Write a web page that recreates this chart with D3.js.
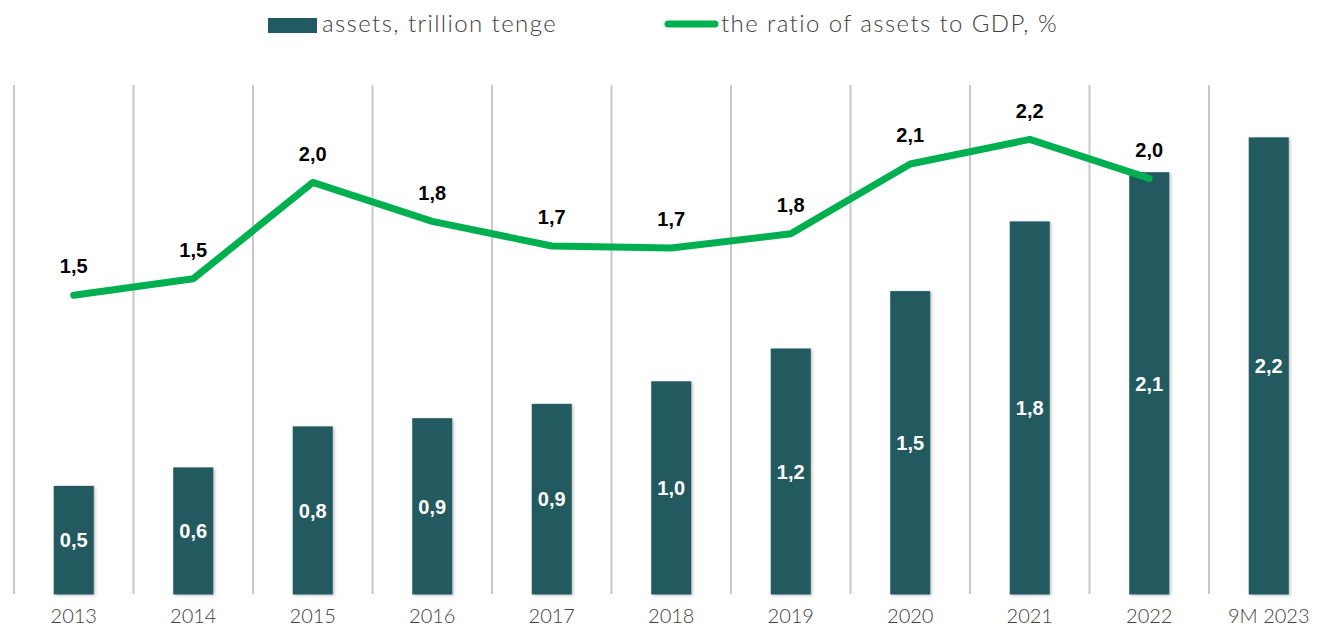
<!DOCTYPE html>
<html>
  <head>
    <style>
      html,
      body {
        margin: 0;
        padding: 0;
        background: #fff;
      }
      #viz {
        width: 1323px;
        height: 632px;
      }
    </style>
  </head>
  <body>
    <div id="viz"></div>
    <script src="https://d3js.org/d3.v7.min.js"></script>
    <script>
      // data
      const categories = ["2013", "2014", "2015", "2016", "2017", "2018", "2019", "2020", "2021", "2022", "9M 2023"];
      const assets = [0.53, 0.62, 0.82, 0.86, 0.93, 1.04, 1.2, 1.48, 1.82, 2.06, 2.23];
      const ratioYears = ["2013", "2014", "2015", "2016", "2017", "2018", "2019", "2020", "2021", "2022"];
      const ratio = [1.46, 1.54, 2.01, 1.82, 1.7, 1.69, 1.76, 2.1, 2.22, 2.03];
      const legendLabels = ["assets, trillion tenge", "the ratio of assets to GDP, %"];

      const width = 1323;
      const height = 632;
      const barColor = "#215a60";
      const lineColor = "#00b050";
      const lightFont = "Lato, 'Open Sans', sans-serif";
      const boldFont = "'Liberation Sans', Arial, sans-serif";

      const fmt = (v) => d3.format(".1f")(v).replace(".", ",");

      const svg = d3
        .select("#viz")
        .append("svg")
        .attr("width", width)
        .attr("height", height);

      const defs = svg.append("defs");
      const shadow = defs.append("filter").attr("id", "shadow").attr("x", "-20%").attr("width", "150%");
      shadow
        .append("feDropShadow")
        .attr("dx", 1.5)
        .attr("dy", 1)
        .attr("stdDeviation", 1.5)
        .attr("flood-color", "#000")
        .attr("flood-opacity", 0.25);

      const x = d3.scaleBand().domain(categories).range([14, 1328.5]).padding(0);
      const y = d3.scaleLinear().domain([0, 2.5]).range([594.5, 594.5 - 2.5 * 205]);
      const barW = x.bandwidth() * 0.335;

      // vertical separators
      svg
        .append("g")
        .selectAll("line")
        .data(categories)
        .join("line")
        .attr("x1", (d) => x(d))
        .attr("x2", (d) => x(d))
        .attr("y1", 85)
        .attr("y2", 594)
        .attr("stroke", "#c8c8c8")
        .attr("stroke-width", 2);

      // bars
      const bars = categories.map((c, i) => ({ c, v: assets[i] }));
      svg
        .append("g")
        .selectAll("rect")
        .data(bars)
        .join("rect")
        .attr("x", (d) => x(d.c) + x.bandwidth() / 2 - barW / 2)
        .attr("y", (d) => y(d.v))
        .attr("width", barW)
        .attr("height", (d) => y(0) - y(d.v))
        .attr("fill", barColor)
        .attr("filter", "url(#shadow)");

      svg
        .append("g")
        .selectAll("text")
        .data(bars)
        .join("text")
        .attr("x", (d) => x(d.c) + x.bandwidth() / 2)
        .attr("y", (d) => (y(d.v) + y(0)) / 2)
        .attr("dy", "0.36em")
        .attr("text-anchor", "middle")
        .attr("font-family", boldFont)
        .attr("font-weight", "bold")
        .attr("font-size", 20)
        .attr("fill", "#fff")
        .text((d) => fmt(d.v));

      // ratio line
      const pts = ratioYears.map((c, i) => ({ c, v: ratio[i] }));
      const line = d3
        .line()
        .x((d) => x(d.c) + x.bandwidth() / 2)
        .y((d) => y(d.v));

      svg
        .append("path")
        .datum(pts)
        .attr("d", line)
        .attr("fill", "none")
        .attr("stroke", lineColor)
        .attr("stroke-width", 7)
        .attr("stroke-linecap", "round")
        .attr("stroke-linejoin", "round");

      svg
        .append("g")
        .selectAll("text")
        .data(pts)
        .join("text")
        .attr("x", (d) => x(d.c) + x.bandwidth() / 2)
        .attr("y", (d) => y(d.v) - 29)
        .attr("dy", "0.36em")
        .attr("text-anchor", "middle")
        .attr("font-family", boldFont)
        .attr("font-weight", "bold")
        .attr("font-size", 20)
        .attr("fill", "#000")
        .text((d) => fmt(d.v));

      // x axis labels
      const xAxis = d3.axisBottom(x).tickSize(0).tickPadding(0);
      const gx = svg.append("g").attr("transform", "translate(0,609)").call(xAxis);
      gx.select(".domain").remove();
      gx.selectAll("text")
        .attr("font-family", lightFont)
        .attr("font-weight", 300)
        .attr("font-size", 20)
        .attr("fill", "#404040");

      // legend
      const legend = svg
        .append("g")
        .attr("font-family", lightFont)
        .attr("font-weight", 300)
        .attr("font-size", 24)
        .attr("letter-spacing", 1.4)
        .attr("fill", "#404040");
      legend.append("rect").attr("x", 268).attr("y", 18).attr("width", 49).attr("height", 15).attr("fill", barColor);
      legend.append("text").attr("x", 322).attr("y", 24).attr("dy", "0.35em").text(legendLabels[0]);
      legend
        .append("line")
        .attr("x1", 668)
        .attr("x2", 715)
        .attr("y1", 24)
        .attr("y2", 24)
        .attr("stroke", lineColor)
        .attr("stroke-width", 7)
        .attr("stroke-linecap", "round");
      legend.append("text").attr("x", 721).attr("y", 24).attr("dy", "0.35em").text(legendLabels[1]);
    </script>
  </body>
</html>
